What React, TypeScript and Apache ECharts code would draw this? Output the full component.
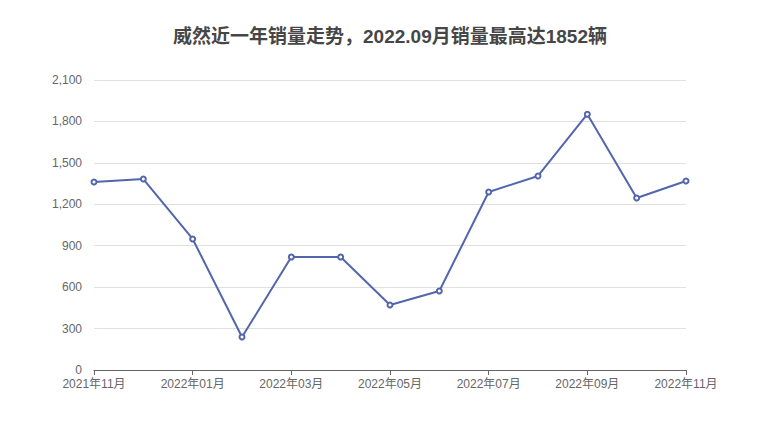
import React, { useEffect, useRef } from "react";
import * as echarts from "echarts";

const categories = [
  "2021年11月", "2021年12月", "2022年01月", "2022年02月", "2022年03月", "2022年04月",
  "2022年05月", "2022年06月", "2022年07月", "2022年08月", "2022年09月", "2022年10月", "2022年11月",
];
const sales = [1361, 1383, 949, 239, 818, 818, 471, 572, 1289, 1405, 1852, 1246, 1369];
const titleText = "威然近一年销量走势，2022.09月销量最高达1852辆";

export default function App() {
  const ref = useRef<HTMLDivElement>(null);
  useEffect(() => {
    const chart = echarts.init(ref.current!, null, { renderer: "svg" });
    const font = "'Liberation Sans', 'Noto Sans CJK SC', sans-serif";
    chart.setOption({
      animation: false,
      title: {
        text: titleText,
        left: "center",
        top: 22,
        textStyle: { fontSize: 19, fontWeight: "bold", color: "#464646", fontFamily: font },
      },
      grid: { left: 94, right: 94, top: 80, bottom: 70 },
      xAxis: {
        type: "category",
        data: categories,
        boundaryGap: false,
        axisLine: { lineStyle: { color: "#666" } },
        axisTick: { interval: 1, lineStyle: { color: "#666" } },
        axisLabel: { interval: 1, color: "#666", fontSize: 12, fontFamily: font, margin: 8 },
      },
      yAxis: {
        type: "value",
        min: 0,
        max: 2100,
        interval: 300,
        axisLine: { show: false },
        axisTick: { show: false },
        axisLabel: { color: "#666", fontSize: 12, fontFamily: font, margin: 12 },
        splitLine: { lineStyle: { color: "#e0e0e0" } },
      },
      series: [
        {
          type: "line",
          data: sales,
          symbol: "emptyCircle",
          symbolSize: 5,
          lineStyle: { color: "#5266ab", width: 2 },
          itemStyle: { color: "#5266ab", borderWidth: 1.5 },
        },
      ],
    });
    return () => chart.dispose();
  }, []);
  return <div ref={ref} style={{ width: 780, height: 440, margin: -8 }} />;
}
